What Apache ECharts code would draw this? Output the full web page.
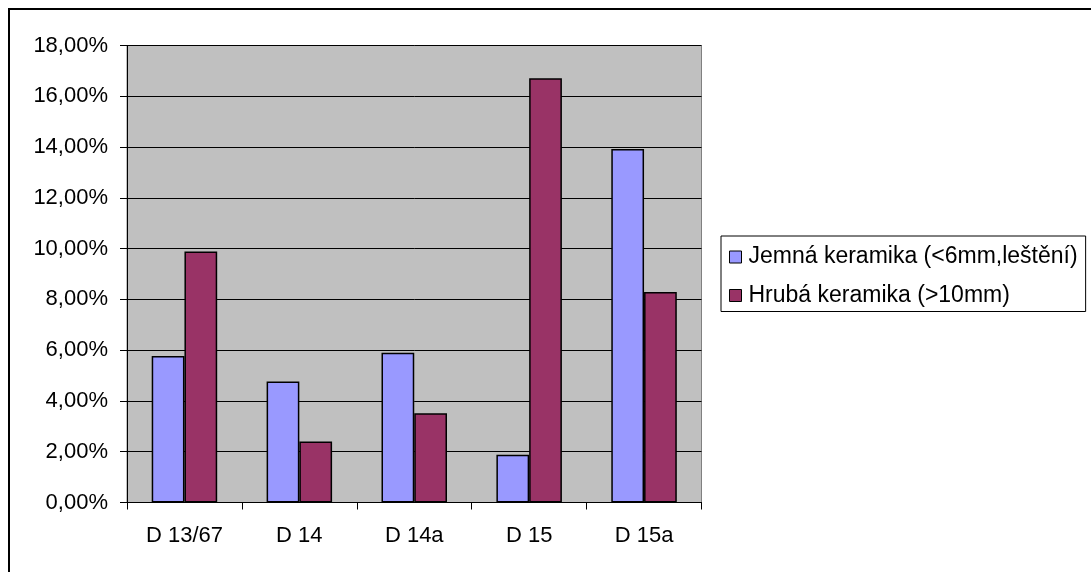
<!DOCTYPE html>
<html>
<head>
<meta charset="utf-8">
<script src="https://cdn.jsdelivr.net/npm/echarts@6/dist/echarts.min.js"></script>
<style>
html,body{margin:0;padding:0;background:#fff;}
#chart{width:1091px;height:572px;}
</style>
</head>
<body>
<div id="chart"></div>
<script>
const categories = ['D 13/67', 'D 14', 'D 14a', 'D 15', 'D 15a'];
const seriesNames = ['Jemná keramika (<6mm,leštění)', 'Hrubá keramika (>10mm)'];
const fineValues = [5.77, 4.77, 5.90, 1.88, 13.92];
const coarseValues = [9.89, 2.40, 3.52, 16.71, 8.29];
const yMin = 0, yMax = 18, yStep = 2;

const FONT = '"Liberation Sans", Arial, sans-serif';
const chart = echarts.init(document.getElementById('chart'), null, {renderer: 'canvas'});
chart.setOption({
  animation: false,
  backgroundColor: '#ffffff',
  textStyle: {fontFamily: FONT},
  graphic: [{
    type: 'rect', silent: true, z: 100,
    shape: {x: 9, y: 9, width: 1200, height: 700},
    style: {fill: 'none', stroke: '#000', lineWidth: 2}
  }],
  grid: {
    left: 127, top: 45.5, right: 389.5, bottom: 69.5,
    show: true, backgroundColor: '#C0C0C0', borderColor: '#808080', borderWidth: 1
  },
  legend: {
    orient: 'vertical', left: 721, top: 236,
    data: seriesNames,
    icon: 'rect', itemWidth: 12, itemHeight: 12, itemGap: 12.5,
    padding: [8, 8, 3, 8],
    borderColor: '#000', borderWidth: 1, backgroundColor: '#fff',
    textStyle: {fontFamily: FONT, fontSize: 23, color: '#000', lineHeight: 26, padding: [0, 0, 0, 2]},
    itemStyle: {borderColor: '#000', borderWidth: 1}
  },
  xAxis: {
    type: 'category', data: categories,
    axisLine: {lineStyle: {color: '#000', width: 1}},
    axisTick: {show: true, length: 7, lineStyle: {color: '#000'}},
    axisLabel: {fontFamily: FONT, fontSize: 22, color: '#000', margin: 22},
    splitLine: {show: false}
  },
  yAxis: {
    type: 'value', min: yMin, max: yMax, interval: yStep,
    axisLine: {show: true, lineStyle: {color: '#000', width: 1}},
    axisTick: {show: true, length: 7, lineStyle: {color: '#000'}},
    axisLabel: {fontFamily: FONT, fontSize: 22, color: '#000', margin: 19,
      formatter: v => v.toFixed(2).replace('.', ',') + '%'},
    splitLine: {show: true, lineStyle: {color: '#000', width: 1}}
  },
  series: [
    {name: seriesNames[0], type: 'bar', data: fineValues, barGap: '0%', barCategoryGap: '43%',
     itemStyle: {color: '#9999FF', borderColor: '#000', borderWidth: 1.5}},
    {name: seriesNames[1], type: 'bar', data: coarseValues, barGap: '0%', barCategoryGap: '43%',
     itemStyle: {color: '#993366', borderColor: '#000', borderWidth: 1.5}}
  ]
});
</script>
</body>
</html>
